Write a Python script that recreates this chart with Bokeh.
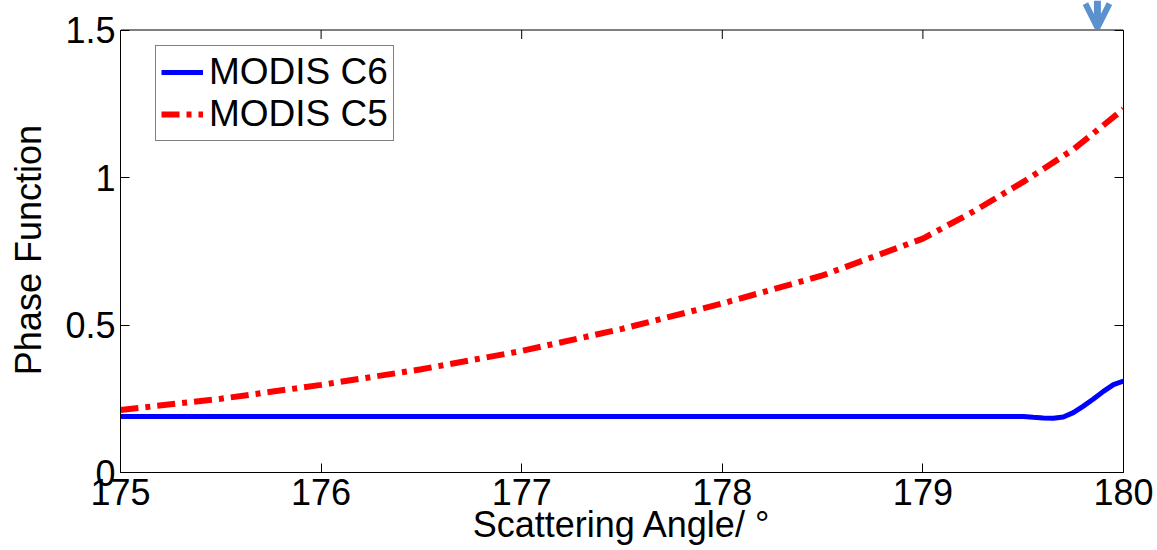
from bokeh.plotting import figure
from bokeh.models import (Range1d, FixedTicker, LinearAxis, CustomJSTickFormatter,
                          Legend, LegendItem, Arrow, OpenHead, Span)
from bokeh.embed import file_html
from bokeh.resources import INLINE

# ---- data ----
c5_angle = [175.0, 175.5, 176.0, 176.5, 177.0, 177.5, 178.0, 178.5, 179.0, 179.25, 179.5, 179.75, 180.0]
c5_phase = [0.212, 0.250, 0.297, 0.350, 0.412, 0.487, 0.573, 0.668, 0.793, 0.884, 0.985, 1.095, 1.232]

c6_angle = [175.0, 179.5, 179.55, 179.6, 179.65, 179.7, 179.75, 179.8, 179.85, 179.9, 179.95, 180.0]
c6_phase = [0.190, 0.190, 0.187, 0.185, 0.184, 0.188, 0.203, 0.225, 0.249, 0.275, 0.298, 0.310]

x_ticks = [175, 176, 177, 178, 179, 180]
y_ticks = [0, 0.5, 1, 1.5]
series_names = ["MODIS C6", "MODIS C5"]
x_label = "Scattering Angle/ \u00b0"
y_label = "Phase Function"
arrow_x = 179.87

FONT = "Liberation Sans"
Y_TOP = 1.5          # top of the axes box
Y_VIEW = 1.6         # visible range extends above the box to hold the arrow
TICK = 0.0305        # inward tick length in data units for the top edge

p = figure(width=1157, height=550, output_backend="svg", toolbar_location=None,
           x_range=Range1d(175, 180), y_range=Range1d(0, Y_VIEW),
           min_border_left=120, min_border_right=34, min_border_top=0, min_border_bottom=78,
           x_axis_label=x_label,
           # trailing non-breaking spaces centre the label on the axes box, not the taller frame
           y_axis_label=y_label + "\u00a0\u00a0\u2009")
p.background_fill_color = "white"
p.border_fill_color = "white"
p.grid.visible = False
p.outline_line_color = None

fmt = CustomJSTickFormatter(code="return tick.toString();")
p.xaxis.ticker = FixedTicker(ticks=x_ticks)
p.yaxis.ticker = FixedTicker(ticks=y_ticks)
p.xaxis.formatter = fmt
p.yaxis.formatter = fmt
p.yaxis.bounds = (0, Y_TOP)
for ax in (p.xaxis[0], p.yaxis[0]):
    ax.major_tick_in = 9
    ax.major_tick_out = 0
    ax.minor_tick_line_color = None
    ax.major_tick_line_color = "black"
    ax.axis_line_color = "black"
    ax.major_label_text_font = FONT
    ax.major_label_text_font_size = "36px"
    ax.major_label_text_color = "black"
    ax.axis_label_text_font = FONT
    ax.axis_label_text_font_size = "36px"
    ax.axis_label_text_font_style = "normal"
    ax.axis_label_text_color = "black"
p.xaxis.major_label_standoff = 6
p.xaxis.axis_label_standoff = -4
p.yaxis.major_label_standoff = 5
p.yaxis.axis_label_standoff = 13

right = LinearAxis(ticker=FixedTicker(ticks=y_ticks),
                   formatter=CustomJSTickFormatter(code="return '';"),
                   major_tick_in=9, major_tick_out=0, minor_tick_line_color=None,
                   major_label_standoff=0, bounds=(0, Y_TOP), axis_line_color="black",
                   major_tick_line_color="black")
p.add_layout(right, "right")

# top edge of the box with inward ticks
p.add_layout(Span(location=Y_TOP, dimension="width", line_color="black", line_width=1))
p.segment(x0=x_ticks, y0=[Y_TOP] * len(x_ticks), x1=x_ticks,
          y1=[Y_TOP - TICK] * len(x_ticks), line_color="black", line_width=1)

r6 = p.line(c6_angle, c6_phase, line_color="#0000ff", line_width=5)
r5 = p.line(c5_angle, c5_phase, line_color="#ff0000", line_width=6, line_dash="18 7 5 7")

legend = Legend(items=[LegendItem(label=series_names[0], renderers=[r6]),
                       LegendItem(label=series_names[1], renderers=[r5])],
                location=(35, 331))
legend.label_text_font = FONT
legend.label_text_font_size = "37px"
legend.label_text_color = "black"
legend.border_line_color = "black"
legend.border_line_width = 1
legend.background_fill_alpha = 1
legend.padding = 5
legend.spacing = 0
legend.margin = 0
legend.glyph_width = 42
legend.glyph_height = 40
legend.label_height = 40
legend.label_standoff = 6
p.add_layout(legend, "center")

arr = Arrow(x_start=arrow_x, y_start=Y_VIEW, x_end=arrow_x, y_end=Y_TOP + 0.008,
            line_color="#5b92cd", line_width=7,
            end=OpenHead(size=24, line_color="#5b92cd", line_width=6))
p.add_layout(arr)

open("out.html", "w").write(file_html(p, INLINE))
